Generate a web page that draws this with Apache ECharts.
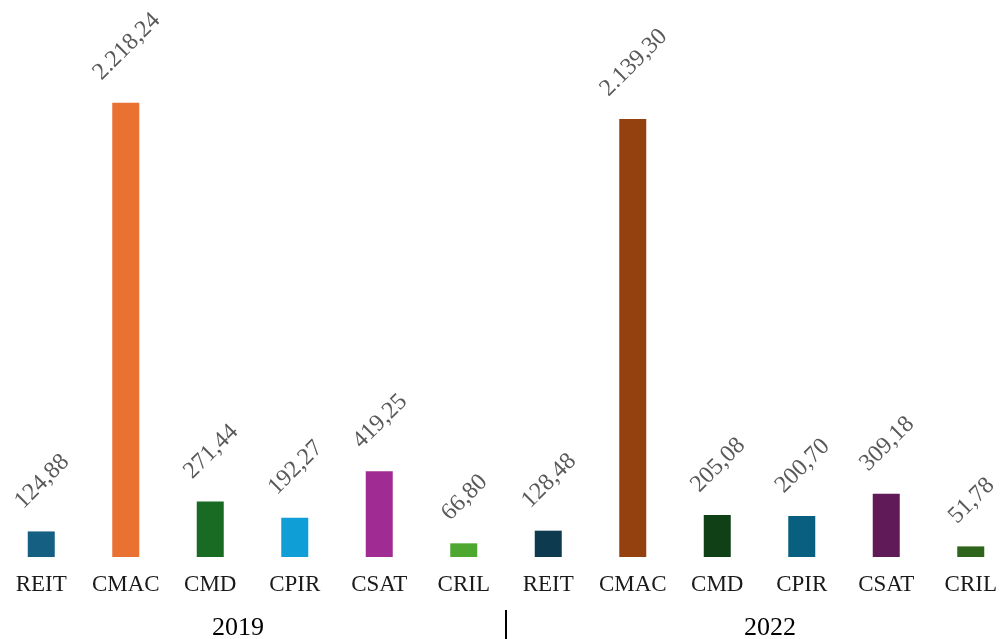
<!DOCTYPE html>
<html>
<head>
<meta charset="utf-8">
<style>
  html, body { margin: 0; padding: 0; background: #ffffff; overflow: hidden; }
  #chart { position: absolute; left: -1px; top: 0; width: 1014px; height: 639px; }
</style>
<script src="https://cdn.jsdelivr.net/npm/echarts@6/dist/echarts.min.js"></script>
</head>
<body>
<div id="chart"></div>
<script>
// Indicators per period
const indicators = ['REIT', 'CMAC', 'CMD', 'CPIR', 'CSAT', 'CRIL'];
const years = ['2019', '2022'];
const values2019 = [124.88, 2218.24, 271.44, 192.27, 419.25, 66.80];
const values2022 = [128.48, 2139.30, 205.08, 200.70, 309.18, 51.78];
const colors2019 = ['#156082', '#E97132', '#196B24', '#0F9ED5', '#A02B93', '#4EA72E'];
const colors2022 = ['#0D3A4E', '#94410F', '#0F4016', '#095F80', '#601A58', '#2F641C'];

const categories = indicators.concat(indicators);
const values = values2019.concat(values2022);
const barColors = colors2019.concat(colors2022);

// 1234.5 -> "1.234,50"
function formatValue(v) {
  const parts = v.toFixed(2).split('.');
  parts[0] = parts[0].replace(/\B(?=(\d{3})+(?!\d))/g, '.');
  return parts[0] + ',' + parts[1];
}

const serif = '"Liberation Serif", "Times New Roman", serif';
const chart = echarts.init(document.getElementById('chart'), null, { renderer: 'canvas' });

chart.setOption({
  animation: false,
  backgroundColor: '#ffffff',
  grid: { left: 0, right: 0, top: 0, bottom: 82, containLabel: false },
  xAxis: [
    {
      type: 'category',
      data: categories,
      axisLine: { show: false },
      axisTick: { show: false },
      axisLabel: {
        interval: 0,
        margin: 16,
        color: '#1a1a1a',
        fontFamily: serif,
        fontSize: 23
      }
    },
    {
      // group divider between the two periods
      type: 'category',
      data: years,
      position: 'bottom',
      offset: 53,
      axisLine: { show: false },
      axisTick: { show: true, length: 29, lineStyle: { color: '#000000', width: 2 } },
      axisLabel: { show: false }
    }
  ],
  yAxis: {
    type: 'value',
    min: 0,
    max: 2720,
    show: false,
    splitLine: { show: false }
  },
  series: [{
    type: 'bar',
    xAxisIndex: 0,
    barWidth: 27,
    data: values.map((v, i) => ({ value: v, itemStyle: { color: barColors[i] } })),
    label: {
      show: true,
      position: 'top',
      rotate: 45,
      align: 'center',
      verticalAlign: 'middle',
      color: '#595959',
      fontFamily: serif,
      fontSize: 24,
      formatter: p => formatValue(p.value)
    },
    labelLayout: function (params) {
      const r = params.rect;
      const lr = params.labelRect;
      return {
        x: r.x + r.width / 2 + 1,
        y: r.y - 18 - lr.height / 2
      };
    }
  }],
  graphic: years.map((y, i) => ({
    type: 'text',
    left: i === 0 ? 239 - 26 : 771 - 26,
    top: 615,
    style: {
      text: y,
      fill: '#000000',
      font: '26px ' + serif
    }
  }))
});
</script>
</body>
</html>
